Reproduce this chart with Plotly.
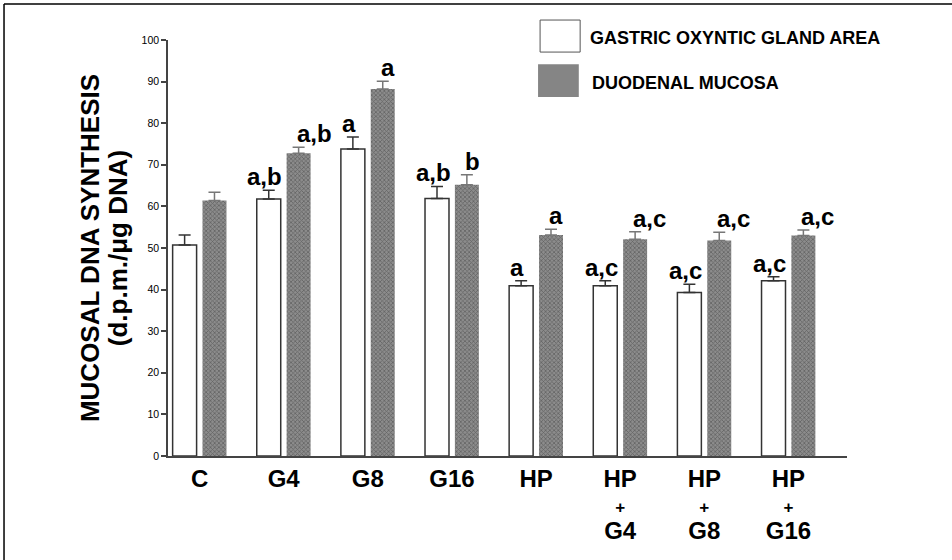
import plotly.graph_objects as go

groups = ["C", "G4", "G8", "G16", "HP", "HP<br>+<br>G4", "HP<br>+<br>G8", "HP<br>+<br>G16"]

gastric = [50.7, 61.8, 73.8, 61.9, 40.9, 40.9, 39.3, 42.1]
gastric_err = [2.4, 2.1, 2.9, 2.9, 1.2, 1.2, 2.0, 1.0]
gastric_sig = ["", "a,b", "a", "a,b", "a", "a,c", "a,c", "a,c"]

duodenal = [61.4, 72.8, 88.2, 65.2, 53.1, 52.1, 51.8, 53.0]
duodenal_err = [2.0, 1.4, 1.9, 2.4, 1.4, 1.8, 2.0, 1.3]
duodenal_sig = ["", "a,b", "a", "b", "a", "a,c", "a,c", "a,c"]

FONT = "Liberation Sans, Arial, sans-serif"
xpos = list(range(len(groups)))
bw = 0.285


def tick_label(s):
    # big bold lines, small "+" between them
    parts = []
    for p in s.split("<br>"):
        size = 17 if p == "+" else 24
        parts.append(f"<span style='font-size:{size}px'>{p}</span>")
    return "<br>".join(parts)


fig = go.Figure()

fig.add_trace(go.Bar(
    x=xpos, y=gastric, width=bw, offset=-0.32,
    marker=dict(color="white", line=dict(color="#333333", width=1.5)),
    error_y=dict(type="data", symmetric=False, array=gastric_err,
                 arrayminus=[0] * len(gastric), color="#333333",
                 thickness=1.5, width=6),
    showlegend=False,
))

fig.add_trace(go.Bar(
    x=xpos, y=duodenal, width=bw, offset=0.035,
    marker=dict(color="#858585", line=dict(width=0),
                pattern=dict(shape="x", size=3, solidity=0.45,
                             fgcolor="#3a3a3a", bgcolor="#8c8c8c")),
    error_y=dict(type="data", symmetric=False, array=duodenal_err,
                 arrayminus=[0] * len(duodenal), color="#777777",
                 thickness=1.5, width=6),
    showlegend=False,
))

annotations = []
for i in xpos:
    if gastric_sig[i]:
        annotations.append(dict(
            x=i - 0.32 + bw / 2, y=gastric[i] + gastric_err[i],
            text=gastric_sig[i], showarrow=False, xanchor="center",
            yanchor="bottom", xshift=-4, yshift=-2,
            font=dict(family=FONT, size=24, color="black", weight="bold")))
    if duodenal_sig[i]:
        annotations.append(dict(
            x=i + 0.035 + bw / 2, y=duodenal[i] + duodenal_err[i],
            text=duodenal_sig[i], showarrow=False, xanchor="left",
            yanchor="bottom", xshift=-4, yshift=-2,
            font=dict(family=FONT, size=24, color="black", weight="bold")))

# legend drawn by hand
annotations += [
    dict(x=0.619, y=1.005, xref="paper", yref="paper", xanchor="left",
         yanchor="middle", showarrow=False,
         text="GASTRIC OXYNTIC GLAND AREA",
         font=dict(family=FONT, size=18, color="black", weight="bold")),
    dict(x=0.622, y=0.897, xref="paper", yref="paper", xanchor="left",
         yanchor="middle", showarrow=False,
         text="DUODENAL MUCOSA",
         font=dict(family=FONT, size=18, color="black", weight="bold")),
]

shapes = [
    dict(type="rect", xref="paper", yref="paper",
         x0=0.548, x1=0.607, y0=0.971, y1=1.048,
         fillcolor="white", line=dict(color="#555555", width=1)),
    dict(type="rect", xref="paper", yref="paper",
         x0=0.545, x1=0.605, y0=0.863, y1=0.942,
         fillcolor="#858585", line=dict(width=0)),
    # frame lines
    dict(type="line", xref="paper", yref="paper",
         x0=-0.2415, x1=1.16, y0=1.0865, y1=1.0865,
         line=dict(color="black", width=1.5)),
    dict(type="line", xref="paper", yref="paper",
         x0=-0.2415, x1=-0.2415, y0=1.0865, y1=-0.26,
         line=dict(color="black", width=1.5)),
]

fig.update_layout(
    width=952, height=560,
    margin=dict(l=168, r=105, t=40, b=104),
    paper_bgcolor="white", plot_bgcolor="white",
    barmode="overlay",
    annotations=annotations, shapes=shapes,
    font=dict(family=FONT, color="black"),
)

fig.update_xaxes(
    range=[-0.375, 7.696], tickvals=xpos,
    ticktext=[tick_label(g) for g in groups],
    showline=True, linecolor="#444444", linewidth=1.5,
    ticks="", showgrid=False, zeroline=False, automargin=False,
    ticklabelstandoff=5,
    tickfont=dict(family=FONT, size=20, color="black", weight="bold"),
)

fig.update_yaxes(
    range=[0, 100], dtick=10, ticks="outside", ticklen=5,
    tickwidth=1.5, tickcolor="#444444",
    showline=True, linecolor="#444444", linewidth=1.5,
    showgrid=False, zeroline=False, automargin=False,
    tickfont=dict(family=FONT, size=10.5, color="black"),
    title=dict(text="<span style='font-size:26px'>MUCOSAL DNA SYNTHESIS</span><br>"
                    "<span style='font-size:26px'>(d.p.m./μg DNA)</span>",
               font=dict(family=FONT, size=21.5, color="black", weight="bold"),
               standoff=8),
)

fig.write_html("out.html", config={"displayModeBar": False},
               post_script="document.body.style.margin='0';")
